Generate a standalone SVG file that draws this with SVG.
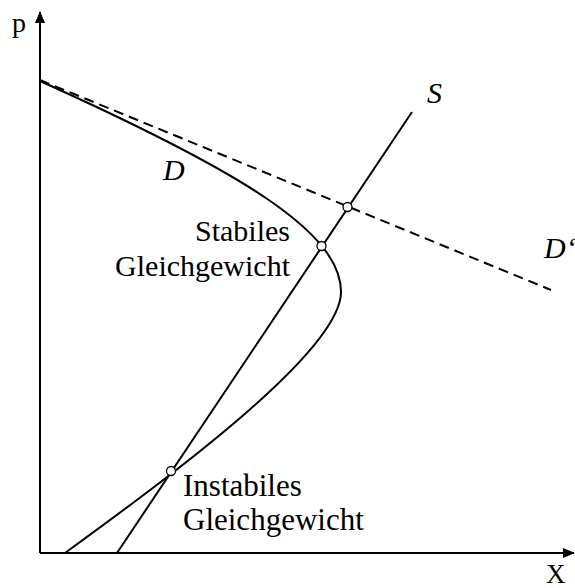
<svg xmlns="http://www.w3.org/2000/svg" width="575" height="588" viewBox="0 0 575 588">
<style>
.ln{fill:none;stroke:#000;stroke-width:2}
.dash{fill:none;stroke:#000;stroke-width:2;stroke-dasharray:10,6}
.pt{fill:#fff;stroke:#000;stroke-width:1.3}
.t{font-family:"Liberation Serif","Times New Roman",serif;font-size:30px;fill:#000}
.i{font-style:italic}
</style>
<defs>
<marker id="ah" viewBox="0 0 12 10" refX="11" refY="5" markerWidth="12" markerHeight="10" markerUnits="userSpaceOnUse" orient="auto">
<path d="M0,0 L12,5 L0,10 z" fill="#000"/>
</marker>
</defs>
<g id="axes">
<line class="ln" x1="40" y1="553" x2="40" y2="12" marker-end="url(#ah)"/>
<line class="ln" x1="40" y1="553" x2="574" y2="553" marker-end="url(#ah)"/>
<text class="t" x="12" y="32" style="font-size:28px">p</text>
<text class="t" x="546" y="583" style="font-size:27px">X</text>
</g>
<g id="connectors">
<path id="D" class="ln" d="M40,81 C240,171 341,232 341,292 C341,352 165,480 65,553"/>
<line id="S" class="ln" x1="117" y1="553" x2="412" y2="112"/>
<line id="Dprime" class="dash" x1="40" y1="80" x2="551" y2="290"/>
</g>
<g id="labels">
<text class="t i" x="427" y="103">S</text>
<text class="t i" x="163" y="180">D</text>
<text class="t i" x="544" y="258">D‘</text>
</g>
<g id="stabil">
<circle class="pt" cx="321.5" cy="246" r="4.5"/>
<text class="t" x="290" y="241" text-anchor="end">Stabiles</text>
<text class="t" x="290" y="276" text-anchor="end">Gleichgewicht</text>
</g>
<g id="schnitt">
<circle class="pt" cx="347.5" cy="207" r="4.5"/>
</g>
<g id="instabil">
<circle class="pt" cx="171" cy="471" r="4.5"/>
<text class="t" x="183" y="496" style="font-size:31px">Instabiles</text>
<text class="t" x="183" y="530" style="font-size:31px">Gleichgewicht</text>
</g>
</svg>
